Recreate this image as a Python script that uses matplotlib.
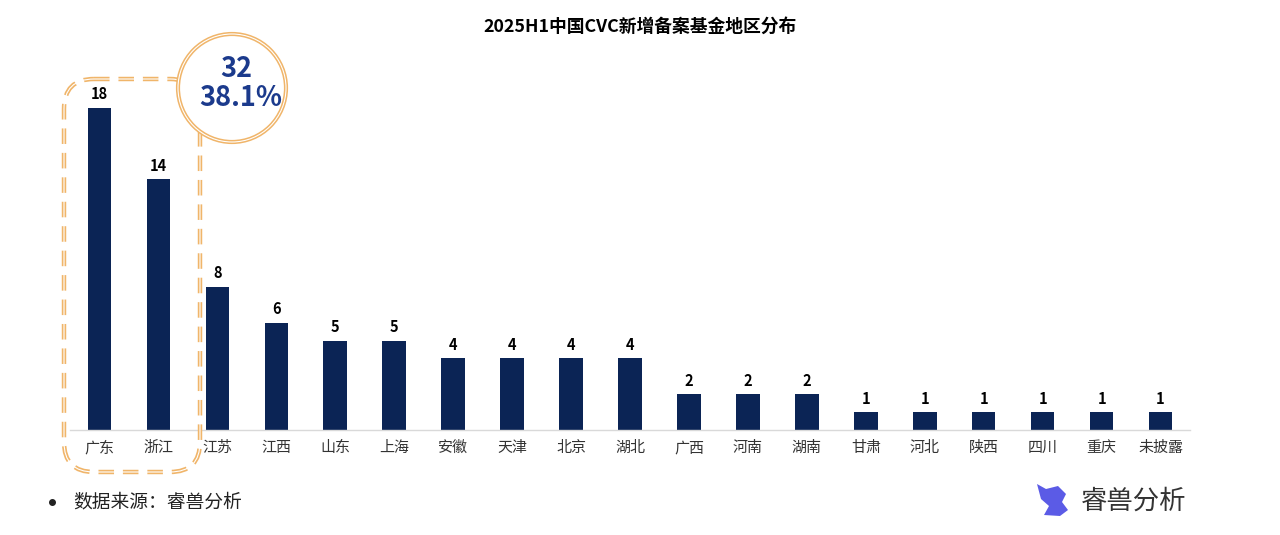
import matplotlib
matplotlib.use("Agg")
import matplotlib.pyplot as plt
from matplotlib.patches import FancyBboxPatch, Circle, Polygon

plt.rcParams['font.family'] = ['Noto Sans CJK SC', 'DejaVu Sans']

regions = ["广东", "浙江", "江苏", "江西", "山东", "上海", "安徽", "天津", "北京", "湖北",
           "广西", "河南", "湖南", "甘肃", "河北", "陕西", "四川", "重庆", "未披露"]
counts = [18, 14, 8, 6, 5, 5, 4, 4, 4, 4, 2, 2, 2, 1, 1, 1, 1, 1, 1]
highlight_total = "32"
highlight_share = "38.1%"
title = "2025H1中国CVC新增备案基金地区分布"
source = "数据来源：睿兽分析"
brand = "睿兽分析"

W, H = 1280, 535
fig = plt.figure(figsize=(W / 100, H / 100), dpi=100)
fig.patch.set_facecolor("white")

ax_left, ax_right, ax_top, ax_bottom = 70, 1190, 60, 430
ax = fig.add_axes([ax_left / W, (H - ax_bottom) / H, (ax_right - ax_left) / W, (ax_bottom - ax_top) / H])
bar_color = "#0B2455"
x = list(range(len(regions)))
bars = ax.bar(x, counts, width=0.4, color=bar_color, zorder=2)
ax.set_xlim(-0.5, len(regions) - 0.5)
ax.set_ylim(0, (ax_bottom - ax_top) / 17.9)
for xi, v in zip(x, counts):
    ax.annotate(str(v), (xi, v), xytext=(0, 4), textcoords="offset points",
                ha="center", va="bottom", fontsize=10.5, fontweight="bold", color="black")
ax.set_xticks(x)
ax.set_xticklabels(regions, fontsize=10.8, color="#333333")
ax.tick_params(axis="x", length=0, pad=8)
ax.set_yticks([])
for s in ["top", "right", "left"]:
    ax.spines[s].set_visible(False)
ax.spines["bottom"].set_color("#D9D9D9")
ax.spines["bottom"].set_linewidth(1)

# Overlay in pixel coordinates
ov = fig.add_axes([0, 0, 1, 1], facecolor="none")
ov.set_xlim(0, W)
ov.set_ylim(H, 0)
ov.axis("off")

orange = "#F0B56A"
rect = FancyBboxPatch((64, 79), 136, 393, boxstyle="round,pad=0,rounding_size=30",
                      fill=False, edgecolor=orange, linewidth=3.2, linestyle=(0, (3.5, 2)), zorder=3)
ov.add_patch(rect)
rect2 = FancyBboxPatch((64, 79), 136, 393, boxstyle="round,pad=0,rounding_size=30",
                       fill=False, edgecolor="white", linewidth=0.8, zorder=3.1)
ov.add_patch(rect2)

circ_outer = Circle((232, 88), 54, facecolor="white", edgecolor=orange, linewidth=3.0, zorder=4)
ov.add_patch(circ_outer)
circ_inner = Circle((232, 88), 54, facecolor="none", edgecolor="white", linewidth=0.8, zorder=4.1)
ov.add_patch(circ_inner)
ov.text(236, 69, highlight_total, ha="center", va="center", fontsize=19.5, fontweight="bold",
        color="#1B3A8C", zorder=5)
ov.text(241, 98, highlight_share, ha="center", va="center", fontsize=19.5, fontweight="bold",
        color="#1B3A8C", zorder=5)

ov.text(640, 27, title, ha="center", va="center", fontsize=12.8, fontweight="bold", color="black")

ov.plot([52], [502], marker="o", markersize=4, color="#222222")
ov.text(73, 502, source, ha="left", va="center", fontsize=13.5, color="#222222")

# brand logo (simple purple mark + text)
logo = Polygon([(1037, 484), (1046, 489), (1058, 486), (1066, 494), (1062, 502), (1068, 510),
                (1060, 516), (1044, 515), (1049, 506), (1041, 499)], closed=True,
               facecolor="#5B5BE6", edgecolor="none", zorder=5)
ov.add_patch(logo)
ov.text(1081, 501, brand, ha="left", va="center", fontsize=19, color="#333333")

fig.savefig("out.png", dpi=100, facecolor="white")
